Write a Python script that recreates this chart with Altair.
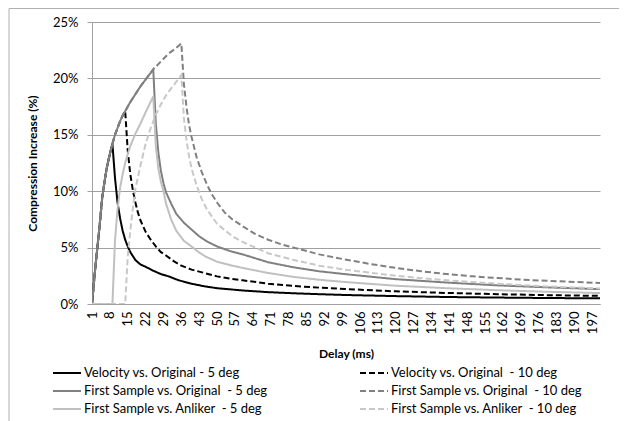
import altair as alt
import pandas as pd

# ---------------- data (values in %) ----------------
names = [
    "Velocity vs. Original - 5 deg",
    "Velocity vs. Original\u00a0 - 10 deg",
    "First Sample vs. Original\u00a0 - 5 deg",
    "First Sample vs. Original\u00a0 - 10 deg",
    "First Sample vs. Anliker\u00a0 - 5 deg",
    "First Sample vs. Anliker\u00a0 - 10 deg",
]
colors = ["#000000", "#000000", "#808080", "#808080", "#c0c0c0", "#c8c8c8"]
dashes = [[1, 0], [6, 3], [1, 0], [6, 3], [1, 0], [6, 3]]

vel5_d = [1, 2, 3, 4, 5, 6, 7, 8, 9, 10, 11, 12, 13, 14, 15, 16, 18, 20, 22, 25, 28, 31, 35, 40, 45, 50, 60, 70, 80, 90, 100, 120, 140, 160, 180, 200]
vel5_v = [0, 2.5, 4.8, 7.0, 9.4, 11.0, 12.3, 13.3, 14.2, 11.2, 9.0, 7.6, 6.5, 5.7, 5.1, 4.6, 3.9, 3.5, 3.3, 2.95, 2.65, 2.45, 2.1, 1.8, 1.57, 1.4, 1.2, 1.05, 0.95, 0.87, 0.8, 0.7, 0.62, 0.57, 0.53, 0.5]

vel10_d = [1, 2, 3, 4, 5, 6, 7, 8, 9, 10, 11, 12, 13, 14, 15, 16, 17, 18, 19, 20, 22, 24, 26, 28, 30, 33, 36, 40, 45, 50, 55, 60, 70, 80, 90, 100, 120, 140, 160, 180, 200]
vel10_v = [0, 2.5, 4.8, 7.0, 9.4, 11.0, 12.3, 13.3, 14.2, 15.0, 15.6, 16.2, 16.7, 17.1, 13.6, 11.5, 10.1, 9.0, 8.1, 7.4, 6.4, 5.7, 5.1, 4.6, 4.3, 3.8, 3.4, 3.05, 2.75, 2.45, 2.25, 2.1, 1.8, 1.6, 1.45, 1.33, 1.12, 0.98, 0.87, 0.78, 0.72]

fso5_d = [1, 2, 3, 4, 5, 6, 7, 8, 9, 10, 11, 12, 13, 14, 16, 18, 20, 22, 25, 26, 27, 28, 29, 30, 32, 34, 37, 40, 43, 46, 50, 55, 60, 70, 80, 90, 100, 120, 140, 160, 180, 200]
fso5_v = [0, 2.5, 4.8, 7.0, 9.4, 11.0, 12.3, 13.3, 14.2, 15.0, 15.6, 16.2, 16.7, 17.1, 17.9, 18.6, 19.3, 19.9, 20.8, 16.0, 13.4, 11.8, 10.7, 9.9, 8.9, 8.0, 7.2, 6.6, 6.0, 5.55, 5.1, 4.7, 4.4, 3.7, 3.25, 2.9, 2.65, 2.2, 1.9, 1.65, 1.47, 1.32]

fso10_d = [1, 2, 3, 4, 5, 6, 7, 8, 9, 10, 11, 12, 13, 14, 16, 18, 20, 22, 25, 28, 31, 34, 36, 37, 38, 39, 40, 42, 44, 46, 48, 50, 53, 56, 60, 65, 70, 75, 80, 90, 100, 110, 120, 130, 140, 150, 160, 170, 180, 190, 200]
fso10_v = [0, 2.5, 4.8, 7.0, 9.4, 11.0, 12.3, 13.3, 14.2, 15.0, 15.6, 16.2, 16.7, 17.1, 17.9, 18.6, 19.3, 19.9, 20.8, 21.5, 22.2, 22.7, 23.1, 19.5, 17.5, 15.9, 14.8, 13.0, 11.7, 10.6, 9.7, 9.0, 8.1, 7.5, 6.9, 6.2, 5.7, 5.3, 5.0, 4.4, 3.95, 3.55, 3.2, 2.9, 2.65, 2.45, 2.3, 2.15, 2.05, 1.95, 1.87]

fsa5_d = [1, 9, 10, 11, 12, 13, 14, 15, 16, 18, 20, 22, 25, 26, 27, 28, 29, 30, 32, 34, 37, 40, 43, 46, 50, 55, 60, 70, 80, 90, 100, 120, 140, 160, 180, 200]
fsa5_v = [0, 0, 5.6, 8.4, 10.3, 11.5, 12.5, 13.3, 14.0, 15.1, 16.0, 17.0, 18.4, 14.0, 12.0, 10.8, 10.0, 8.9, 7.5, 6.5, 5.6, 5.1, 4.55, 4.15, 3.75, 3.45, 3.2, 2.75, 2.4, 2.15, 1.95, 1.62, 1.4, 1.22, 1.08, 0.97]

fsa10_d = [1, 14, 15, 16, 17, 18, 20, 22, 24, 26, 28, 30, 33, 36, 37, 38, 39, 40, 42, 44, 46, 50, 56, 60, 70, 80, 90, 100, 120, 140, 160, 180, 200]
fsa10_v = [0, 0, 4.2, 6.5, 8.5, 10.2, 12.3, 14.2, 15.6, 16.8, 17.7, 18.5, 19.4, 20.3, 16.5, 14.5, 13.1, 12.0, 10.5, 9.3, 8.4, 7.1, 6.0, 5.5, 4.5, 3.9, 3.4, 3.05, 2.5, 2.1, 1.8, 1.55, 1.38]

x_ticks = list(range(1, 198, 7))
y_ticks = [0, 5, 10, 15, 20, 25]

# ---------------- table ----------------
rows = []
for nm, ds, vs in zip(names,
                      [vel5_d, vel10_d, fso5_d, fso10_d, fsa5_d, fsa10_d],
                      [vel5_v, vel10_v, fso5_v, fso10_v, fsa5_v, fsa10_v]):
    for d, v in zip(ds, vs):
        rows.append({"series": nm, "delay": d, "value": v})
df = pd.DataFrame(rows)

FONT = "Lato"

lines = alt.Chart(df).mark_line(strokeWidth=2, clip=True).encode(
    x=alt.X("delay:Q",
            scale=alt.Scale(domain=[1, 200], nice=False, zero=False),
            axis=alt.Axis(title="Delay (ms)", values=x_ticks, labelAngle=-90,
                          grid=False, ticks=False, domain=True, domainColor="#a0a0a0",
                          labelFont=FONT, labelFontSize=13, labelColor="#000000",
                          labelPadding=7, labelFlush=False, labelOverlap=False,
                          titleFont=FONT, titleFontSize=12, titleFontWeight="bold",
                          titleColor="#000000", titlePadding=15)),
    y=alt.Y("value:Q",
            scale=alt.Scale(domain=[0, 25], nice=False),
            axis=alt.Axis(title="Compression Increase (%)", values=y_ticks,
                          labelExpr="datum.value + '%'",
                          grid=True, gridColor="#a0a0a0", gridWidth=1,
                          ticks=True, tickSize=5, tickColor="#a0a0a0",
                          domain=True, domainColor="#a0a0a0",
                          labelFont=FONT, labelFontSize=13, labelColor="#000000",
                          labelPadding=9,
                          titleFont=FONT, titleFontSize=12, titleFontWeight="bold",
                          titleColor="#000000", titlePadding=13)),
    color=alt.Color("series:N",
                    scale=alt.Scale(domain=names, range=colors),
                    legend=alt.Legend(title=None, orient="none", legendX=-33, legendY=343,
                                      direction="horizontal",
                                      columns=2, columnPadding=88, rowPadding=3,
                                      symbolType="M-2,0H2", symbolSize=196,
                                      symbolStrokeWidth=2, labelOffset=9,
                                      labelFont=FONT, labelFontSize=13,
                                      labelColor="#000000", labelLimit=300)),
    strokeDash=alt.StrokeDash("series:N",
                              scale=alt.Scale(domain=names, range=dashes),
                              legend=None),
    order=alt.Order("delay:Q"),
)

# outer chart border
border = alt.Chart(pd.DataFrame({"k": [0]})).mark_rect(
    fill=None, stroke="#b0b0b0", strokeWidth=1, clip=False
).encode(
    x=alt.value(-83), x2=alt.value(532), y=alt.value(-13.5), y2=alt.value(430)
)

chart = alt.layer(border, lines).properties(
    width=508, height=282,
    padding={"left": 84, "top": 14, "right": 19, "bottom": 122},
    autosize=alt.AutoSizeParams(type="none"),
    background="white",
).configure_view(stroke=None)

chart.save("out.html", embed_options={"renderer": "svg", "actions": False})
